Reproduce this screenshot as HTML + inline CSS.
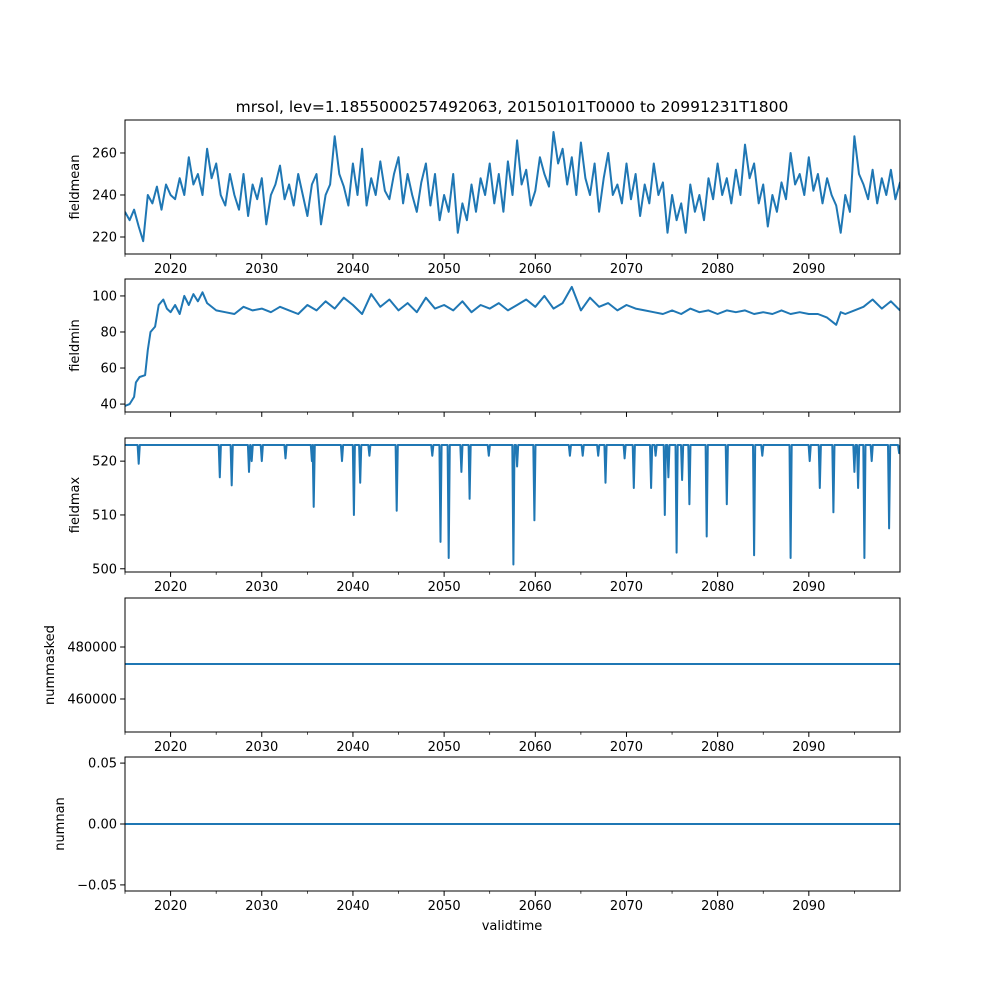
<!DOCTYPE html>
<html><head><meta charset="utf-8"><style>
body{margin:0;background:#fff}
svg text{font-family:"DejaVu Sans","Liberation Sans",sans-serif;fill:#000}
</style></head><body>
<svg id="fig" width="1000" height="1000" viewBox="0 0 1000 1000" xmlns="http://www.w3.org/2000/svg">
<rect width="1000" height="1000" fill="#fff"/>
<text x="512" y="112" font-size="15.5" text-anchor="middle">mrsol, lev=1.1855000257492063, 20150101T0000 to 20991231T1800</text>
<text x="512" y="930" font-size="13" text-anchor="middle">validtime</text>
</svg>
<script>
const xTicks=[2020,2030,2040,2050,2060,2070,2080,2090];
const xMinor=[2015,2025,2035,2045,2055,2065,2075,2085,2095];
const meanStart=2015, meanStep=0.5;
const meanVals=[232,228,233,225,218,240,236,244,233,245,240,238,248,240,258,245,250,240,262,248,255,240,235,250,240,233,250,230,245,238,248,226,240,245,254,238,245,235,250,240,230,245,250,226,240,245,268,250,244,235,255,240,262,235,248,240,256,242,238,250,258,236,250,240,232,246,255,235,250,228,240,232,250,222,236,228,245,232,248,240,255,236,250,232,256,240,266,245,252,235,242,258,250,244,270,255,262,245,258,240,265,248,240,255,232,248,260,240,245,236,255,238,250,230,245,236,255,240,246,222,240,228,236,222,245,232,240,228,248,238,255,240,248,236,252,240,264,248,255,236,245,225,240,232,246,238,260,245,250,240,258,242,250,236,248,240,235,222,240,232,268,250,245,238,252,236,248,240,252,238,246,238];
const minYears=[2015,2015.5,2016,2016.2,2016.6,2017.2,2017.5,2017.8,2018.3,2018.7,2019.2,2019.6,2020,2020.5,2021,2021.5,2022,2022.5,2023,2023.5,2024,2025,2026,2027,2028,2029,2030,2031,2032,2033,2034,2035,2036,2037,2038,2039,2040,2041,2042,2043,2044,2045,2046,2047,2048,2049,2050,2051,2052,2053,2054,2055,2056,2057,2058,2059,2060,2061,2062,2063,2064,2065,2066,2067,2068,2069,2070,2071,2072,2073,2074,2075,2076,2077,2078,2079,2080,2081,2082,2083,2084,2085,2086,2087,2088,2089,2090,2091,2092,2093,2093.5,2094,2095,2096,2097,2098,2099,2100];
const minVals=[39,40,44,52,55,56,70,80,83,95,98,93,91,95,90,100,95,101,97,102,96,92,91,90,94,92,93,91,94,92,90,95,92,97,93,99,95,90,101,94,98,92,96,91,99,93,95,92,97,91,95,93,96,92,95,98,94,100,93,96,105,92,99,94,96,92,95,93,92,91,90,92,90,93,91,92,90,92,91,92,90,91,90,92,90,91,90,90,88,84,91,90,92,94,98,93,97,92];
const maxBase=523;
const dipYears=[2016.5,2025.4,2026.7,2028.6,2028.9,2030.0,2032.6,2035.5,2035.7,2038.8,2040.1,2040.8,2041.8,2044.8,2048.7,2049.6,2050.5,2051.9,2052.8,2054.9,2057.6,2058.0,2059.9,2063.8,2065.2,2066.9,2067.7,2069.8,2070.8,2072.7,2073.2,2074.2,2074.6,2075.5,2076.1,2076.9,2078.8,2081.0,2084.0,2084.9,2088.0,2090.1,2091.2,2092.7,2095.0,2095.4,2096.1,2096.9,2098.8,2099.9];
const dipVals=[519.5,517,515.5,518,520,520,520.5,520,511.5,520,510,516,521,510.8,521,505,502,518,513,521,500.8,519,509,521,521,521,516,520.5,515,515,521,510,517,503,516.5,512,506,512,502.5,521,502,520,515,510.5,518,515,502,520,507.5,521.5];
const maskedVal=473460;
const nanVal=0;

const svg=document.getElementById('fig');
const NS='http://www.w3.org/2000/svg';
const L=125,R=900;
function xs(yr){return L+(yr-2015)/85*(R-L);}
function mk(tag,attrs,parent){const e=document.createElementNS(NS,tag);for(const k in attrs)e.setAttribute(k,attrs[k]);(parent||svg).appendChild(e);return e;}
const panels=[
 {name:'fieldmean',top:120,bot:254,y0:211.9,y1:275.7,ticks:[220,240,260],fmt:v=>String(v)},
 {name:'fieldmin',top:279,bot:412,y0:35.6,y1:109.4,ticks:[40,60,80,100],fmt:v=>String(v)},
 {name:'fieldmax',top:438,bot:572,y0:499.4,y1:524.3,ticks:[500,510,520],fmt:v=>String(v)},
 {name:'nummasked',top:598,bot:732,y0:447300,y1:498846,ticks:[460000,480000],fmt:v=>String(v)},
 {name:'numnan',top:757,bot:891,y0:-0.055,y1:0.055,ticks:[-0.05,0,0.05],fmt:v=>(v<0?'\u22120.05':v.toFixed(2))}
];
panels.forEach((p,i)=>{
 const g=mk('g',{});
 
 
 const ys=v=>p.bot-(v-p.y0)/(p.y1-p.y0)*(p.bot-p.top);
 let d='';
 if(i===0){meanVals.forEach((v,k)=>{d+=(k?'L':'M')+xs(meanStart+k*meanStep).toFixed(1)+' '+ys(v).toFixed(1);});}
 else if(i===1){minVals.forEach((v,k)=>{d+=(k?'L':'M')+xs(minYears[k]).toFixed(1)+' '+ys(v).toFixed(1);});}
 else if(i===2){d='M'+xs(2015)+' '+ys(maxBase);dipYears.forEach((yr,k)=>{d+='L'+xs(yr-0.12).toFixed(1)+' '+ys(maxBase).toFixed(1)+'L'+xs(yr).toFixed(1)+' '+ys(dipVals[k]).toFixed(1)+'L'+xs(yr+0.12).toFixed(1)+' '+ys(maxBase).toFixed(1);});d+='L'+xs(2100)+' '+ys(maxBase);}
 else {const v=i===3?maskedVal:nanVal;d='M'+xs(2015)+' '+ys(v)+'L'+xs(2100)+' '+ys(v);}
 const clip=mk('clipPath',{id:'c'+i},g);mk('rect',{x:L,y:p.top,width:R-L,height:p.bot-p.top},clip);
 const line=mk('path',{d:d,fill:'none',stroke:'#1f77b4','stroke-width':2,'stroke-linejoin':'round','clip-path':'url(#c'+i+')'},g);
 
 
 const fr=mk('rect',{x:L,y:p.top,width:R-L,height:p.bot-p.top,fill:'none',stroke:'#000','stroke-width':1},g);
 
 
 p.ticks.forEach(t=>{const y=ys(t);mk('line',{x1:L-4.9,x2:L,y1:y,y2:y,stroke:'#000','stroke-width':1},g);
  const tx=mk('text',{x:L-8,y:y+4.5,'font-size':13,'text-anchor':'end'},g);tx.textContent=p.fmt(t);
  
  });
 const yl=mk('text',{x:0,y:0,'font-size':13,'text-anchor':'middle',transform:'translate('+(i===3?54:(i===4?64:79))+','+((p.top+p.bot)/2)+') rotate(-90)'},g);
 yl.textContent=p.name;
 
 
 xTicks.forEach(t=>{const x=xs(t);mk('line',{x1:x,x2:x,y1:p.bot,y2:p.bot+4.9,stroke:'#000','stroke-width':1},g);
  if(i!==1){const tx=mk('text',{x:x,y:p.bot+19,'font-size':13,'text-anchor':'middle'},g);tx.textContent=t;
  
  }});
 xMinor.forEach(t=>{const x=xs(t);mk('line',{x1:x,x2:x,y1:p.bot,y2:p.bot+2.8,stroke:'#000','stroke-width':0.7},g);});
});
</script>
</body></html>
